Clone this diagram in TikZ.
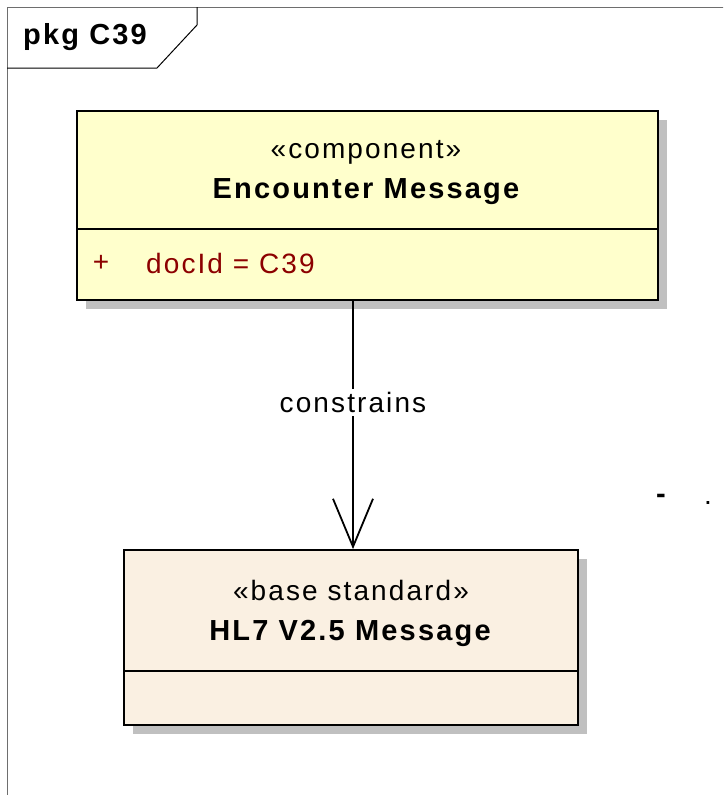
\documentclass[tikz,border=0pt]{standalone}
\usepackage{fontspec}
\setmainfont{Liberation Sans}[LetterSpace=7.5]
\usetikzlibrary{arrows.meta, shadows}

\definecolor{klassegeel}{RGB}{255,255,204}
\definecolor{basisbeige}{RGB}{250,240,226}
\definecolor{schaduw}{RGB}{192,192,192}
\definecolor{attribrood}{RGB}{140,0,0}
\definecolor{kadergrijs}{RGB}{110,110,110}

\tikzset{
	klasse/.style={draw, line width=1.8pt, inner sep=0pt,
		drop shadow={shadow xshift=9pt, shadow yshift=-9pt, fill=schaduw, opacity=1}},
	tekst/.style={inner sep=0pt, font=\fontsize{28}{33}\selectfont},
	vet/.style={inner sep=0pt, font=\fontsize{29}{34}\selectfont\bfseries},
}

\begin{document}
\begin{tikzpicture}[x=1pt, y=-1pt]

				\useasboundingbox (0,0) rectangle (723,795);
				\clip (0,0) rectangle (723,795);

				\draw[kadergrijs, line width=1pt] (7,800) -- (7,7) -- (730,7);
				\draw[line width=1pt] (7,68) -- (157,68) -- (197,25) -- (197,7);
				\node[vet, anchor=west] (pakketnaam) at (23,37) {pkg C39};

				\node[klasse, fill=klassegeel, minimum width=581pt, minimum height=189pt] (encounter) at (367.5,205.5) {};
				\draw[line width=1.8pt] ([yshift=-119pt]encounter.north west) -- ([yshift=-119pt]encounter.north east);
				\node[tekst] (encounterstereo) at (366,152) {«component»};
				\node[vet] (encounternaam) at (366,192) {Encounter Message};
				\node[tekst, text=attribrood] (attribplus) at (101,263) {+};
				\node[tekst, text=attribrood, anchor=west] (attribdocid) at (146,263) {docId = C39};

				\node[klasse, fill=basisbeige, minimum width=454pt, minimum height=175pt] (hlseven) at (351,637.5) {};
				\draw[line width=1.8pt] ([yshift=-122pt]hlseven.north west) -- ([yshift=-122pt]hlseven.north east);
				\node[tekst] (hlsevenstereo) at (351,590) {«base standard»};
				\node[vet] (hlsevennaam) at (350,633) {HL7 V2.5 Message};

				\draw[line width=1.8pt, -{Straight Barb[length=48pt, width=40pt]}] (encounter.south -| 353,0) -- (hlseven.north -| 353,0)
				node[tekst, pos=0.41, fill=white, inner sep=3pt] (beperkt) {constrains};

				\node[vet] (streepje) at (661,499) {-};
				\node[tekst] (puntje) at (708,503) {.};

			\end{tikzpicture}
\end{document}
